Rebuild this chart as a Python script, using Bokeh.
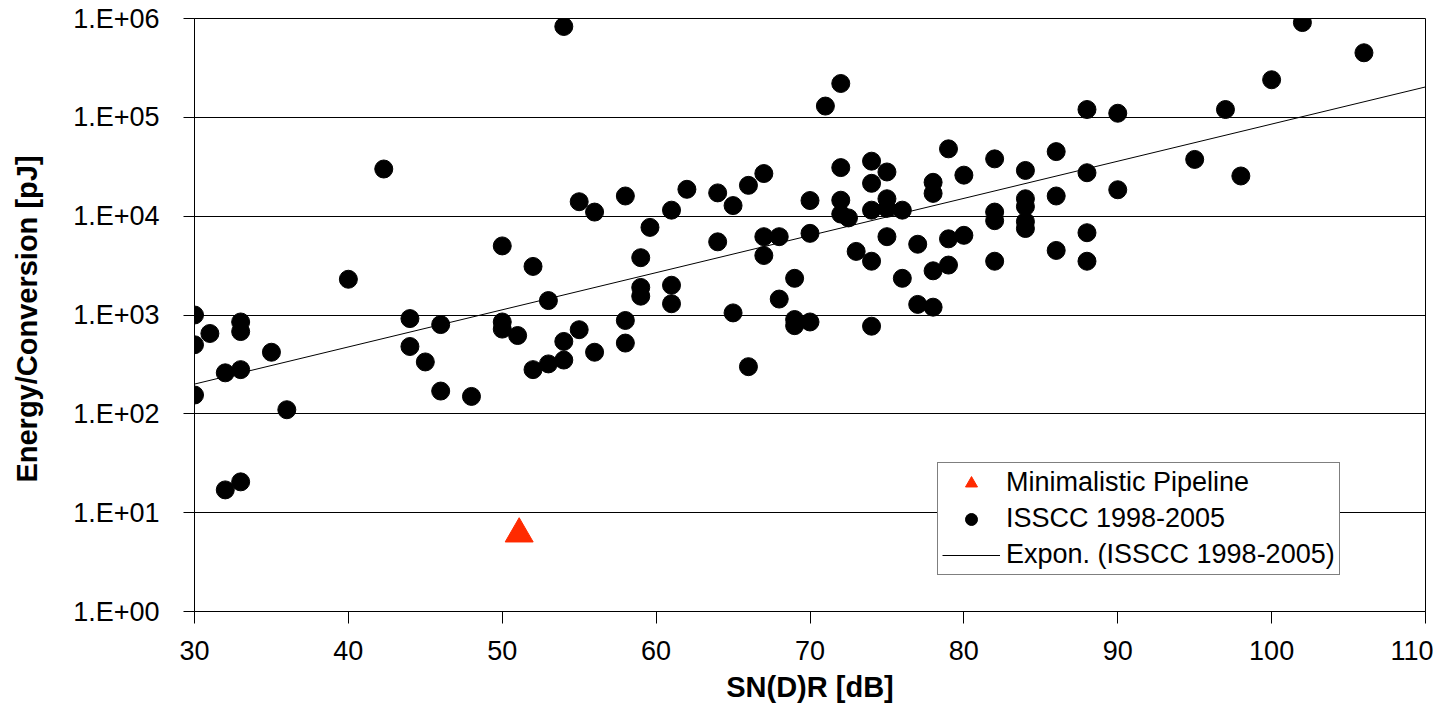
from bokeh.plotting import figure
from bokeh.models import FixedTicker, CustomJSTickFormatter, Legend, LegendItem, Range1d
from bokeh.embed import file_html
from bokeh.resources import INLINE

# ISSCC 1998-2005 data: SN(D)R [dB] and energy per conversion [pJ]
isscc_sndr = [30, 30, 30, 31, 32, 32, 33, 33, 33, 33, 35, 36, 40, 42.3, 44, 44, 45, 46, 46, 48,
              50, 50, 50, 51, 52, 52, 53, 53, 54, 54, 54, 55, 55, 56, 56, 58, 58, 58,
              59, 59, 59, 59.6, 61, 61, 61, 62, 64, 64, 65, 65, 66, 66, 67, 67, 67, 68, 68,
              69, 69, 69, 70, 70, 70, 71, 72, 72, 72, 72, 72.5, 73,
              74, 74, 74, 74, 74, 75, 75, 75, 75, 76, 76, 77, 77, 78, 78, 78, 78,
              79, 79, 79, 80, 80, 82, 82, 82, 82, 84, 84, 84, 84, 84, 86, 86, 86,
              88, 88, 88, 88, 90, 90, 95, 97, 98, 100, 102, 106]
isscc_energy = [1000, 500, 155, 650, 260, 17, 850, 680, 280, 20.5, 420, 110, 2300, 30000, 920, 480, 335, 800, 170, 150,
                5000, 850, 720, 620, 3100, 280, 1400, 320, 8.3e5, 540, 350, 14000, 710, 11000, 420, 16000, 880, 520,
                3800, 1900, 1550, 7700, 11500, 2000, 1300, 18700, 17200, 5500, 12800, 1050, 20500, 300, 27000, 6200, 4000, 6200, 1450,
                2350, 900, 780, 14400, 6700, 850, 1.3e5, 2.2e5, 31000, 14500, 10500, 9600, 4400,
                36000, 21500, 11500, 3500, 770, 28000, 15000, 12000, 6200, 11500, 2350, 5200, 1280, 22000, 17000, 2800, 1200,
                48000, 5900, 3200, 26000, 6400, 38000, 11000, 9000, 3500, 29000, 15000, 12500, 8800, 7500, 45000, 16000, 4500,
                1.2e5, 27500, 6800, 3500, 1.1e5, 18500, 37500, 1.2e5, 25500, 2.4e5, 9.1e5, 4.5e5]

# Minimalistic Pipeline
pipe_sndr = [51.1]
pipe_energy = [6.1]

# Exponential trendline (ISSCC 1998-2005), endpoints
trend_sndr = [30, 110]
trend_energy = [200, 2.03e5]

x_ticks = [30, 40, 50, 60, 70, 80, 90, 100, 110]
y_ticks = [1, 10, 100, 1000, 10000, 100000, 1000000]

FONT = "Liberation Sans"

p = figure(width=1433, height=713, x_range=Range1d(30, 110), y_range=Range1d(1, 1e6),
           y_axis_type="log", output_backend="svg", toolbar_location=None,
           min_border_left=194, min_border_right=8, min_border_top=18, min_border_bottom=102,
           background_fill_color="white", border_fill_color="white")

p.outline_line_color = "black"
p.outline_line_width = 1

p.xgrid.visible = False
p.ygrid.grid_line_color = "black"
p.ygrid.grid_line_alpha = 1.0
p.ygrid.grid_line_width = 1
p.ygrid.minor_grid_line_color = None

p.xaxis.ticker = FixedTicker(ticks=x_ticks)
p.yaxis.ticker = FixedTicker(ticks=y_ticks)
p.yaxis.formatter = CustomJSTickFormatter(code="""
const e = Math.round(Math.log10(tick));
return "1.E" + (e < 0 ? "-" : "+") + String(Math.abs(e)).padStart(2, "0");
""")

for ax in (p.xaxis[0], p.yaxis[0]):
    ax.axis_line_color = "black"
    ax.axis_line_width = 1
    ax.major_tick_line_color = "black"
    ax.major_tick_in = 0
    ax.minor_tick_line_color = None
    ax.major_label_text_font = FONT
    ax.major_label_text_font_size = "27px"
    ax.major_label_text_color = "black"
    ax.axis_label_text_font = FONT
    ax.axis_label_text_font_size = "29px"
    ax.axis_label_text_font_style = "bold"
    ax.axis_label_text_color = "black"

p.xaxis.major_tick_out = 12
p.xaxis.major_label_standoff = 17
p.xaxis.axis_label = "SN(D)R [dB]"
p.xaxis.axis_label_standoff = 8

p.yaxis.major_tick_out = 11
p.yaxis.major_label_standoff = 24
p.yaxis.axis_label = "Energy/Conversion  [pJ]"
p.yaxis.axis_label_standoff = 27

r_trend = p.line(trend_sndr, trend_energy, line_color="black", line_width=1)
r_isscc = p.scatter(isscc_sndr, isscc_energy, marker="circle", size=18,
                    fill_color="black", line_color="black")
r_pipe = p.scatter(pipe_sndr, pipe_energy, marker="triangle", size=28,
                   fill_color="#FF2A00", line_color="#FF2A00")

legend = Legend(items=[
    LegendItem(label="Minimalistic Pipeline", renderers=[r_pipe]),
    LegendItem(label="ISSCC 1998-2005", renderers=[r_isscc]),
    LegendItem(label="Expon. (ISSCC 1998-2005)", renderers=[r_trend]),
], location=(743, 36))
legend.border_line_color = "black"
legend.border_line_width = 1
legend.background_fill_color = "white"
legend.background_fill_alpha = 1.0
legend.label_text_font = FONT
legend.label_text_font_size = "27px"
legend.label_text_color = "black"
legend.glyph_width = 58
legend.glyph_height = 30
legend.label_height = 30
legend.label_standoff = 6
legend.spacing = 5
legend.padding = 4
legend.margin = 0
p.add_layout(legend, "center")

open("out.html", "w").write(file_html(p, INLINE))
